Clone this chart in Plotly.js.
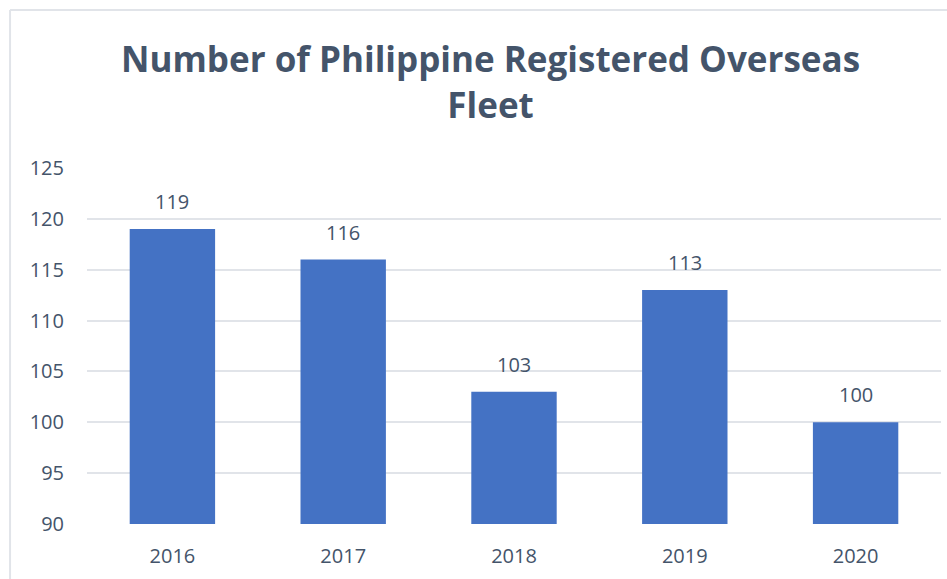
<!DOCTYPE html>
<html>
<head>
<meta charset="utf-8">
<script src="https://cdn.plot.ly/plotly-3.0.1.min.js"></script>
<style>html,body{margin:0;padding:0;background:#fff;}#chart{width:947px;height:579px;}</style>
</head>
<body>
<div id="chart"></div>
<script>
const years = ["2016", "2017", "2018", "2019", "2020"];
const fleetCounts = [119, 116, 103, 113, 100];
const yTicks = [90, 95, 100, 105, 110, 115, 120, 125];

const textColor = "#44546A";
const baseValue = 90;

const trace = {
  type: "bar",
  x: years,
  y: fleetCounts.map(v => v - baseValue),
  base: baseValue,
  marker: {color: "#4472C4", line: {width: 0}},
  hoverinfo: "x+text",
  hovertext: fleetCounts.map(String)
};

// category index positions for the value labels
const valueLabels = years.map((yr, i) => ({
  x: i, y: fleetCounts[i], xref: "x", yref: "y",
  text: String(fleetCounts[i]),
  showarrow: false, yanchor: "bottom", yshift: 12,
  font: {family: "Open Sans", size: 20, color: textColor}
}));

const layout = {
  width: 947, height: 579,
  margin: {l: 87, r: 6, t: 168, b: 55},
  paper_bgcolor: "#fff", plot_bgcolor: "#fff",
  bargap: 0.5,
  showlegend: false,
  title: {
    text: "<b>Number of Philippine Registered Overseas<br>Fleet</b>",
    font: {family: "Open Sans", size: 35, color: textColor},
    xref: "container", x: 0.518, xanchor: "center",
    yref: "container", y: 0.875, yanchor: "top"
  },
  xaxis: {
    type: "category",
    range: [-0.5, years.length - 0.5],
    showgrid: false, zeroline: false, showline: false,
    ticks: "", tickfont: {family: "Open Sans", size: 20, color: textColor},
    ticklabelstandoff: 18
  },
  yaxis: {
    range: [90, 125],
    tickvals: yTicks,
    ticktext: yTicks.map(String),
    showgrid: true, gridcolor: "#E1E4E9", gridwidth: 2,
    zeroline: false, showline: false, ticks: "",
    tickfont: {family: "Open Sans", size: 20, color: textColor},
    ticklabelstandoff: 22
  },
  annotations: valueLabels,
  shapes: [
    {type: "line", xref: "paper", yref: "paper", x0: -0.0901, x1: 1.02, y0: 1.444, y1: 1.444, line: {color: "#E1E4E9", width: 2}},
    {type: "line", xref: "paper", yref: "paper", x0: -0.0901, x1: -0.0901, y0: 1.444, y1: -0.2, line: {color: "#E1E4E9", width: 2}}
  ]
};
Plotly.newPlot("chart", [trace], layout, {displayModeBar: false, staticPlot: true});
</script>
</body>
</html>
